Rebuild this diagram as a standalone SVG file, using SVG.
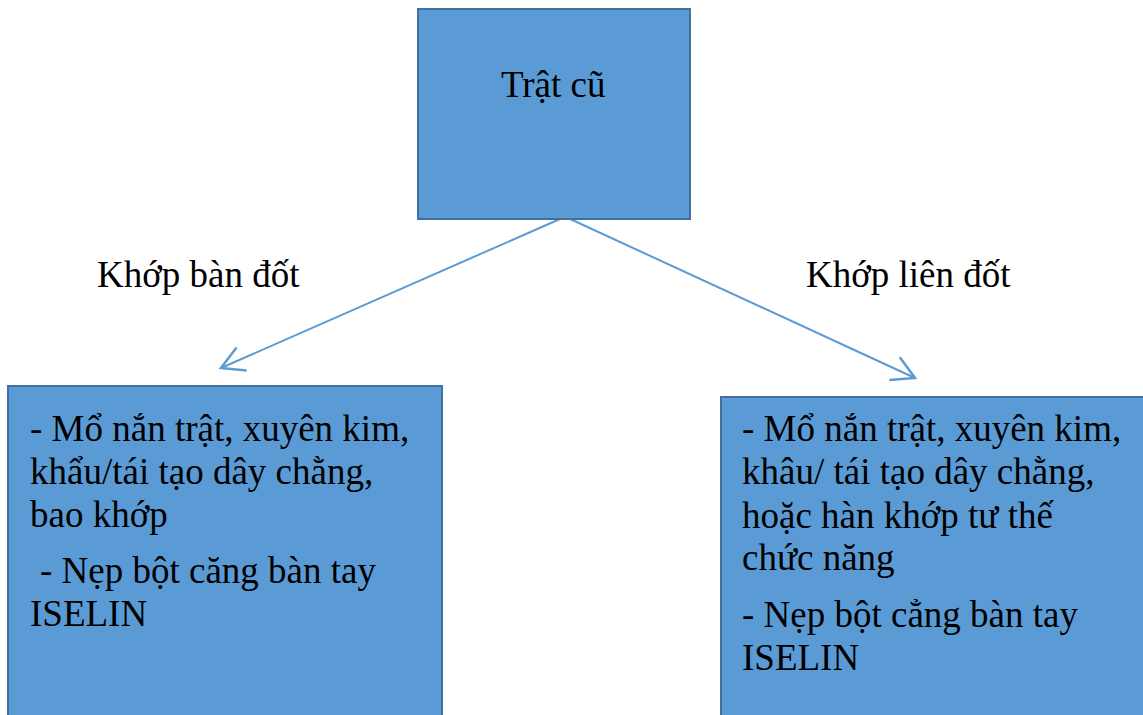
<svg xmlns="http://www.w3.org/2000/svg" width="1143" height="715" viewBox="0 0 1143 715">
<style>
.box{fill:#5B9BD5;stroke:#41719C;stroke-width:2}
.t{font-family:"Liberation Serif","Times New Roman",serif;font-size:37px;fill:#000}
.conn{stroke:#5B9BD5;stroke-width:2;fill:none}
</style>
<defs>
<marker id="ah" markerUnits="userSpaceOnUse" markerWidth="30" markerHeight="30" viewBox="-20 -12 22 24" refX="0" refY="0" orient="auto">
<path d="M -18 -10 L 0 0 L -18 10" fill="none" stroke="#5B9BD5" stroke-width="2"/>
</marker>
</defs>
<rect width="1143" height="715" fill="#fff"/>
<g id="connectors">
<line class="conn" x1="560" y1="219" x2="221" y2="368" marker-end="url(#ah)"/>
<line class="conn" x1="568" y1="218" x2="915" y2="378" marker-end="url(#ah)"/>
</g>
<g id="node-top">
<rect class="box" x="418" y="9" width="272" height="210"/>
<text class="t" x="501" y="97">Trật cũ</text>
</g>
<g id="label-left">
<text class="t" x="97" y="287">Khớp bàn đốt</text>
</g>
<g id="label-right">
<text class="t" x="806" y="287">Khớp liên đốt</text>
</g>
<g id="node-left">
<rect class="box" x="8" y="386" width="434" height="340"/>
<text class="t" x="30" y="441">- Mổ nắn trật, xuyên kim,</text>
<text class="t" x="30" y="484">khẩu/tái tạo dây chằng,</text>
<text class="t" x="30" y="527">bao khớp</text>
<text class="t" x="40" y="583">- Nẹp bột căng bàn tay</text>
<text class="t" x="30" y="626">ISELIN</text>
</g>
<g id="node-right">
<rect class="box" x="721" y="397" width="440" height="330"/>
<text class="t" x="742" y="441">- Mổ nắn trật, xuyên kim,</text>
<text class="t" x="742" y="484">khâu/ tái tạo dây chằng,</text>
<text class="t" x="742" y="528">hoặc hàn khớp tư thế</text>
<text class="t" x="742" y="570">chức năng</text>
<text class="t" x="742" y="627">- Nẹp bột cẳng bàn tay</text>
<text class="t" x="742" y="670">ISELIN</text>
</g>
</svg>
